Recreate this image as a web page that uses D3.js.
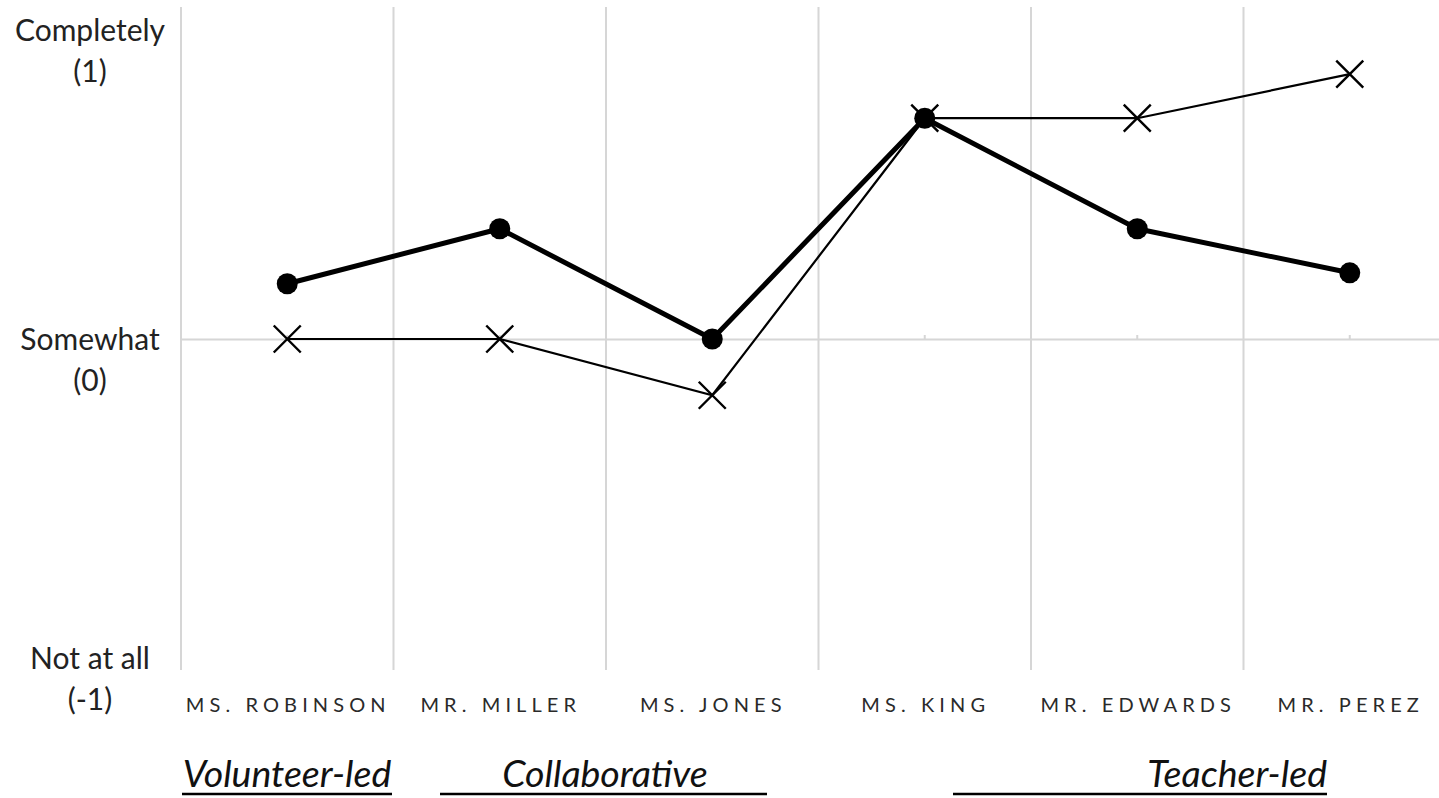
<!DOCTYPE html>
<html>
<head>
<meta charset="utf-8">
<script src="https://cdn.jsdelivr.net/npm/d3@7"></script>
<style>
  html, body { margin: 0; padding: 0; background: #fff; }
  svg { display: block; }
</style>
</head>
<body>
<svg id="chart" width="1439" height="798"></svg>
<script>
// Teachers and their scores on the -1..1 scale
const teachers = ["MS. ROBINSON", "MR. MILLER", "MS. JONES", "MS. KING", "MR. EDWARDS", "MR. PEREZ"];
const dotSeries = [0.167, 0.333, 0.0, 0.667, 0.333, 0.2];
const crossSeries = [0.0, 0.0, -0.17, 0.667, 0.667, 0.8];

// Y axis tick labels (two lines each)
const yTicks = [1, 0, -1];
const yTickLines = [["Completely", "(1)"], ["Somewhat", "(0)"], ["Not at all", "(-1)"]];

// Group captions beneath the axis
const groups = ["Volunteer-led", "Collaborative", "Teacher-led"];

const svg = d3.select("#chart");
const plotLeft = 181, plotTop = 8, plotBottom = 670, bandW = 212.5;

const x = d3.scaleBand().domain(teachers).range([plotLeft, plotLeft + bandW * teachers.length]).paddingInner(0).paddingOuter(0);
const y = d3.scaleLinear().domain([-1, 1]).range([plotBottom, plotTop]);
const cx = d => x(d) + x.bandwidth() / 2;

const grid = "#d6d6d6";
const fontSans = "Lato, 'Open Sans', sans-serif";

// Vertical gridlines at category boundaries
svg.append("g").selectAll("line")
  .data(teachers)
  .join("line")
  .attr("x1", d => x(d)).attr("x2", d => x(d))
  .attr("y1", plotTop - 1).attr("y2", plotBottom)
  .attr("stroke", grid).attr("stroke-width", 2);

// Horizontal axis through zero
const axis = svg.append("g").attr("transform", `translate(0,${y(0)})`)
  .call(d3.axisBottom(x).tickSizeInner(-4).tickSizeOuter(0).tickFormat(""));
axis.select(".domain").attr("stroke", grid).attr("stroke-width", 2);
axis.selectAll(".tick line").attr("stroke", grid).attr("stroke-width", 2);

// Category labels, widely spaced capitals
svg.append("g").selectAll("text")
  .data(teachers)
  .join("text")
  .attr("x", d => cx(d) + 1)
  .attr("y", 712)
  .attr("text-anchor", "middle")
  .attr("font-family", fontSans)
  .attr("font-size", 20)
  .attr("letter-spacing", "5.1px")
  .attr("fill", "#2a2a2a")
  .text(d => d);

// Y tick labels; the top label is pushed inside the canvas
const yBase = [41, y(0) + 11, y(-1) - 1];
const yl = svg.append("g");
yTicks.forEach((v, i) => {
  const t = yl.append("text")
    .attr("x", 90).attr("text-anchor", "middle")
    .attr("font-family", fontSans).attr("font-size", 30).attr("fill", "#222");
  yTickLines[i].forEach((line, j) => {
    t.append("tspan").attr("x", 90).attr("y", yBase[i] + j * 41).text(line);
  });
});

// Cross series (thin line with X markers)
const line = d3.line().x((d, i) => cx(teachers[i])).y(d => y(d));
svg.append("path")
  .datum(crossSeries)
  .attr("d", line)
  .attr("fill", "none").attr("stroke", "#000").attr("stroke-width", 2.2);

const s = 13.5;
svg.append("g").selectAll("path")
  .data(crossSeries)
  .join("path")
  .attr("d", (d, i) => {
    const px = cx(teachers[i]), py = y(d);
    return `M${px - s},${py - s}L${px + s},${py + s}M${px - s},${py + s}L${px + s},${py - s}`;
  })
  .attr("stroke", "#000").attr("stroke-width", 2.4).attr("fill", "none");

// Dot series (thick line with filled circles)
svg.append("path")
  .datum(dotSeries)
  .attr("d", line)
  .attr("fill", "none").attr("stroke", "#000").attr("stroke-width", 5).attr("stroke-linejoin", "round");

svg.append("g").selectAll("circle")
  .data(dotSeries)
  .join("circle")
  .attr("cx", (d, i) => cx(teachers[i]))
  .attr("cy", d => y(d))
  .attr("r", 10.5)
  .attr("fill", "#000");

// Group captions with underlines
const capStart = [182, 440, 953];
const capEnd = [392, 767, 1327];
const capX = [287, 605, 1327];
const capAnchor = ["middle", "middle", "end"];
const cg = svg.append("g");
groups.forEach((g, i) => {
  cg.append("line")
    .attr("x1", capStart[i]).attr("x2", capEnd[i])
    .attr("y1", 794).attr("y2", 794)
    .attr("stroke", "#000").attr("stroke-width", 2.5);
  cg.append("text").attr("x", capX[i]).attr("y", 787).attr("text-anchor", capAnchor[i])
    .attr("font-family", fontSans).attr("font-style", "italic").attr("font-size", 37.5).attr("fill", "#111")
    .text(g);
});
</script>
</body>
</html>
